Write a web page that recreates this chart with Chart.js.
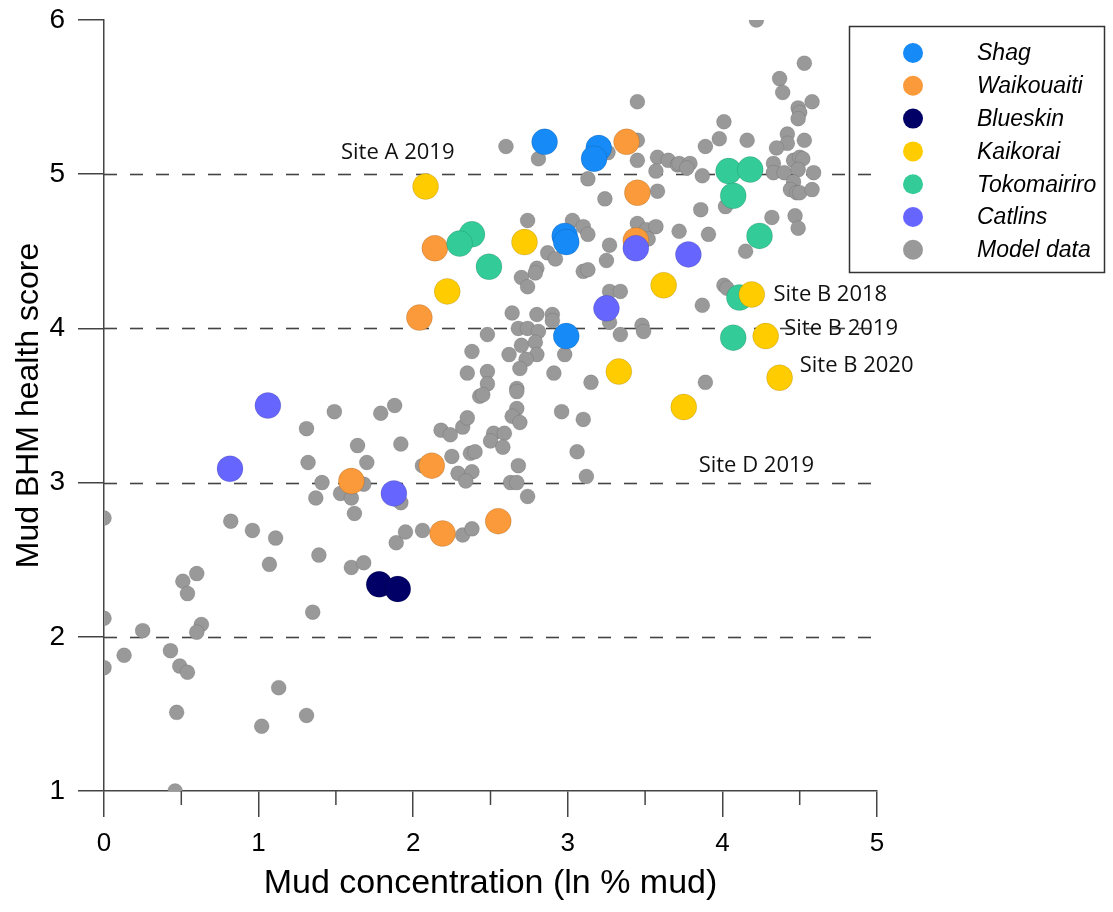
<!DOCTYPE html>
<html>
<head>
<meta charset="utf-8">
<script src="https://cdn.jsdelivr.net/npm/chart.js@4.4.1/dist/chart.umd.min.js"></script>
<style>
  body { margin: 0; background: #fff; }
  #wrap { width: 1113px; height: 912px; }
</style>
</head>
<body>
<div id="wrap"><canvas id="chart"></canvas></div>
<script>
const seriesNames = ['Shag', 'Waikouaiti', 'Blueskin', 'Kaikorai', 'Tokomairiro', 'Catlins', 'Model data'];
const seriesColors = ['#168BF7', '#FA9A3A', '#000066', '#FFCC00', '#33CC99', '#6666FF', '#999999'];

const shagX = [2.85, 3.20, 3.17, 2.98, 2.99, 2.99];
const shagY = [5.21, 5.17, 5.10, 4.60, 4.56, 3.95];

const waikouaitiX = [3.38, 3.45, 3.44, 2.14, 2.04, 2.12, 1.60, 2.19, 2.55];
const waikouaitiY = [5.21, 4.88, 4.57, 4.52, 4.07, 3.11, 3.01, 2.67, 2.75];

const blueskinX = [1.78, 1.90];
const blueskinY = [2.34, 2.31];

const kaikoraiX = [2.08, 2.72, 2.22, 3.33, 3.62, 3.75, 4.19, 4.28, 4.37];
const kaikoraiY = [4.92, 4.56, 4.24, 3.72, 4.28, 3.49, 4.22, 3.95, 3.68];

const tokomairiroX = [2.38, 2.30, 2.49, 4.04, 4.18, 4.07, 4.24, 4.11, 4.07];
const tokomairiroY = [4.61, 4.55, 4.40, 5.02, 5.03, 4.86, 4.60, 4.20, 3.94];

const catlinsX = [1.06, 0.815, 1.875, 3.25, 3.44, 3.78];
const catlinsY = [3.50, 3.09, 2.93, 4.13, 4.52, 4.48];

const modelX = [
  1.49, 1.79, 1.88, 1.31, 1.64, 1.92, 2.18, 2.24, 2.32, 2.35,
  2.43, 1.32, 1.70, 2.25, 2.37, 2.40, 2.06, 2.29, 2.38, 2.34,
  1.41, 1.53, 1.60, 1.68, 1.37, 1.92, 1.62, 0.00, 0.82, 0.96,
  1.11, 1.39, 1.07, 1.60, 1.68, 1.89, 1.95, 2.06, 2.32, 2.38,
  0.60, 0.51, 0.54, 1.35, 0.00, 0.25, 0.63, 0.60, 0.13, 0.43,
  0.49, 0.54, 0.00, 1.13, 0.47, 1.31, 1.02, 0.46,
  3.45, 2.60, 2.81, 3.45, 3.45, 3.26, 3.58, 3.65, 3.71, 3.57,
  3.13, 3.24, 3.58, 2.74, 3.03, 3.10, 3.13, 3.45, 3.51, 3.57,
  3.72, 3.27, 3.25, 2.87, 2.92, 2.80, 2.79, 3.10, 3.13, 2.70,
  2.74, 3.27, 3.34, 3.27, 3.48, 3.49, 3.34, 2.64, 2.80, 2.90,
  2.90, 2.68, 2.74, 2.81, 2.48, 2.38, 2.70, 2.79, 2.80, 2.98,
  2.62, 2.73, 2.69, 2.35, 2.48, 2.48, 2.45, 2.91, 3.15, 2.67,
  2.67, 2.67, 2.64, 2.69, 2.96, 3.10, 2.52, 2.59, 2.50, 2.58,
  3.06, 2.68, 3.12, 2.63, 2.67, 2.74, 3.52,
  4.22, 4.53, 4.37, 4.39, 4.58, 4.49, 4.50, 4.49, 4.01, 3.98,
  4.16, 3.89, 4.42, 4.42, 4.35, 4.53, 3.72, 3.79, 3.77, 3.87,
  4.33, 4.33, 4.40, 4.46, 4.50, 4.52, 4.49, 4.59, 4.46, 4.44,
  4.48, 4.50, 4.58, 4.02, 3.86, 4.32, 4.47, 4.49, 3.91, 4.15,
  4.01, 4.03, 3.87, 3.89
];
const modelY = [
  3.46, 3.45, 3.50, 3.35, 3.24, 3.25, 3.34, 3.31, 3.36, 3.42,
  3.56, 3.13, 3.13, 3.17, 3.19, 3.20, 3.11, 3.06, 3.07, 3.01,
  3.00, 2.93, 2.90, 2.99, 2.90, 2.87, 2.80, 2.77, 2.75, 2.69,
  2.64, 2.53, 2.47, 2.45, 2.48, 2.61, 2.68, 2.69, 2.66, 2.70,
  2.41, 2.36, 2.28, 2.16, 2.12, 2.04, 2.08, 2.03, 1.88, 1.91,
  1.81, 1.77, 1.80, 1.67, 1.51, 1.49, 1.42, 1.00,
  5.47, 5.18, 5.10, 5.22, 5.09, 5.14, 5.11, 5.09, 5.06, 5.02,
  4.97, 4.84, 4.89, 4.70, 4.70, 4.66, 4.61, 4.68, 4.64, 4.66,
  4.63, 4.54, 4.44, 4.49, 4.45, 4.39, 4.36, 4.37, 4.38, 4.33,
  4.27, 4.24, 4.24, 4.04, 4.02, 3.98, 3.96, 4.10, 4.09, 4.09,
  4.05, 4.00, 4.00, 3.98, 3.96, 3.85, 3.89, 3.91, 3.83, 3.83,
  3.83, 3.80, 3.74, 3.71, 3.72, 3.64, 3.57, 3.71, 3.65, 3.61,
  3.59, 3.48, 3.43, 3.39, 3.46, 3.41, 3.32, 3.32, 3.27, 3.23,
  3.20, 3.11, 3.04, 3.00, 3.00, 2.91, 4.58,
  6.00, 5.72, 5.62, 5.53, 5.47, 5.43, 5.40, 5.36, 5.34, 5.23,
  5.22, 5.18, 5.26, 5.20, 5.17, 5.22, 5.07, 5.07, 5.04, 4.99,
  5.07, 5.01, 5.01, 5.09, 5.11, 5.10, 5.03, 5.01, 4.95, 4.90,
  4.88, 4.88, 4.90, 4.79, 4.77, 4.72, 4.73, 4.65, 4.61, 4.50,
  4.28, 4.26, 4.15, 3.65
];

const xTicks = [0, 1, 2, 3, 4, 5];
const xMinorTicks = [0.5, 1.5, 2.5, 3.5, 4.5];
const yTicks = [1, 2, 3, 4, 5, 6];
const refLines = [2, 3, 4, 5];

const siteLabels = ['Site A 2019', 'Site B 2018', 'Site B 2019', 'Site B 2020', 'Site D 2019'];
const siteLabelX = [1.90, 4.33, 4.40, 4.50, 4.22];
const siteLabelY = [5.14, 4.22, 4.00, 3.76, 3.11];
const siteLabelAlign = ['center', 'left', 'left', 'left', 'center'];

const sans = '"Liberation Sans", Arial, sans-serif';

function pts(xs, ys) {
    return xs.map((x, i) => ({ x: x, y: ys[i] }));
}

function siteSet(idx, xs, ys, order) {
    return {
        label: seriesNames[idx],
        data: pts(xs, ys),
        backgroundColor: seriesColors[idx],
        borderColor: 'rgba(0,0,0,0.12)',
        borderWidth: 1,
        pointRadius: 13,
        pointHoverRadius: 13,
        order: order
    };
}

// dashed reference lines under the points
const refLinePlugin = {
    id: 'refLines',
    beforeDatasetsDraw(chart) {
        const { ctx, chartArea, scales } = chart;
        ctx.save();
        ctx.strokeStyle = '#444';
        ctx.lineWidth = 1.6;
        ctx.setLineDash([13, 13]);
        refLines.forEach(v => {
            const py = Math.round(scales.y.getPixelForValue(v)) + 0.5;
            ctx.beginPath();
            ctx.moveTo(chartArea.left, py);
            ctx.lineTo(chartArea.right, py);
            ctx.stroke();
        });
        ctx.setLineDash([]);
        // minor ticks on the x axis
        ctx.strokeStyle = '#444';
        ctx.lineWidth = 1.5;
        xMinorTicks.forEach(v => {
            const px = scales.x.getPixelForValue(v);
            ctx.beginPath();
            ctx.moveTo(px, chartArea.bottom);
            ctx.lineTo(px, chartArea.bottom + 14);
            ctx.stroke();
        });
        ctx.restore();
    }
};

// site annotations and boxed legend
const overlayPlugin = {
    id: 'overlay',
    afterDatasetsDraw(chart) {
        const { ctx, scales } = chart;
        ctx.save();
        ctx.fillStyle = '#111';
        ctx.font = '22px "Open Sans", "Noto Sans", sans-serif';
        ctx.textBaseline = 'middle';
        siteLabels.forEach((t, i) => {
            ctx.textAlign = siteLabelAlign[i];
            ctx.fillText(t, scales.x.getPixelForValue(siteLabelX[i]), scales.y.getPixelForValue(siteLabelY[i]));
        });

        ctx.strokeStyle = '#333';
        ctx.lineWidth = 1.5;
        ctx.strokeRect(849.5, 26.5, 255, 246);
        ctx.font = 'italic 23px ' + sans;
        ctx.textAlign = 'left';
        seriesNames.forEach((name, i) => {
            const cy = 53 + i * 32.8;
            ctx.beginPath();
            ctx.arc(913, cy, 10, 0, Math.PI * 2);
            ctx.fillStyle = seriesColors[i];
            ctx.fill();
            ctx.fillStyle = '#000';
            ctx.fillText(name, 977, cy + 1);
        });
        ctx.restore();
    }
};

new Chart(document.getElementById('chart'), {
    type: 'scatter',
    data: {
        datasets: [
            siteSet(0, shagX, shagY, 6),
            siteSet(1, waikouaitiX, waikouaitiY, 5),
            siteSet(2, blueskinX, blueskinY, 4),
            siteSet(3, kaikoraiX, kaikoraiY, 2),
            siteSet(4, tokomairiroX, tokomairiroY, 3),
            siteSet(5, catlinsX, catlinsY, 1),
            {
                label: seriesNames[6],
                data: pts(modelX, modelY),
                backgroundColor: seriesColors[6],
                borderColor: 'rgba(0,0,0,0.1)',
                borderWidth: 1,
                pointRadius: 7.5,
                pointHoverRadius: 7.5,
                order: 7
            }
        ]
    },
    options: {
        responsive: true,
        maintainAspectRatio: false,
        animation: false,
        events: [],
        layout: { padding: { left: 0, right: 236, top: 20, bottom: 0 } },
        plugins: {
            legend: { display: false },
            tooltip: { enabled: false }
        },
        scales: {
            x: {
                type: 'linear',
                min: 0,
                max: 5,
                afterBuildTicks: s => { s.ticks = xTicks.map(v => ({ value: v })); },
                ticks: { color: '#000', padding: 11, font: { size: 26, family: sans } },
                grid: { drawOnChartArea: false, tickLength: 26, color: '#444', lineWidth: 1.5 },
                border: { color: '#444', width: 1.5 },
                title: {
                    display: true,
                    text: 'Mud concentration (ln % mud)',
                    color: '#000',
                    font: { size: 34, family: sans },
                    padding: { top: 0, bottom: 8 }
                },
                afterFit: s => { s.height = 121; s.paddingLeft = 0; s.paddingRight = 0; }
            },
            y: {
                type: 'linear',
                min: 1,
                max: 6,
                afterBuildTicks: s => { s.ticks = yTicks.map(v => ({ value: v })); },
                ticks: { color: '#000', padding: 13, font: { size: 28, family: sans } },
                grid: { drawOnChartArea: false, tickLength: 26, color: '#444', lineWidth: 1.5 },
                border: { color: '#444', width: 1.5 },
                title: {
                    display: true,
                    text: 'Mud BHM health score',
                    color: '#000',
                    font: { size: 32, family: sans },
                    padding: { top: 10, bottom: 0 }
                },
                afterFit: s => { s.width = 104; s.paddingTop = 0; s.paddingBottom = 0; }
            }
        }
    },
    plugins: [refLinePlugin, overlayPlugin]
});
</script>
</body>
</html>
